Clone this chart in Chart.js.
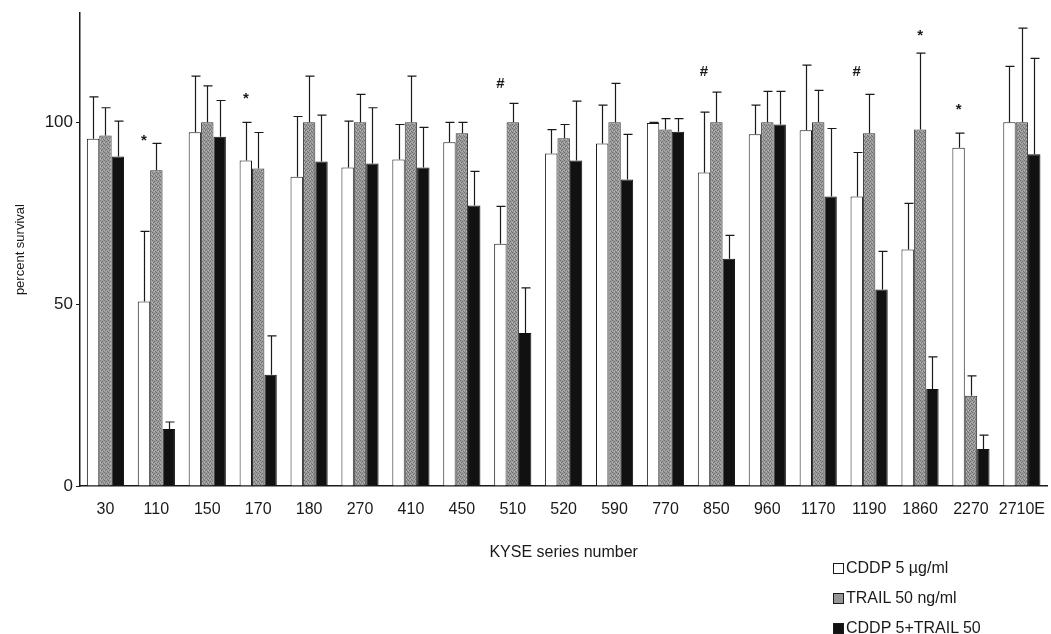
<!DOCTYPE html>
<html>
<head>
<meta charset="utf-8">
<script src="https://cdn.jsdelivr.net/npm/chart.js@4.4.1/dist/chart.umd.min.js"></script>
<style>
  html, body { margin: 0; padding: 0; background: #fff; }
  #wrap { position: relative; width: 1051px; height: 634px; }
  #legend { position: absolute; left: 833px; top: 553px; font-family: "Liberation Sans", Arial, sans-serif; font-size: 16px; color: #1a1a1a; }
  #legend div { height: 30px; line-height: 30px; white-space: nowrap; }
  #legend span.box { display: inline-block; width: 9px; height: 9px; border: 1px solid #1a1a1a; margin-right: 2px; vertical-align: -1px; }
</style>
</head>
<body>
<div id="wrap">
  <canvas id="chart" width="1051" height="634"></canvas>
  <div id="legend"></div>
</div>
<script>
const lines = ["30", "110", "150", "170", "180", "270", "410", "450", "510", "520", "590", "770", "850", "960", "1170", "1190", "1860", "2270", "2710E"];

const cddp = [95.5, 50.7, 97.3, 89.5, 85, 87.6, 89.8, 94.5, 66.6, 91.4, 94.2, 99.8, 86.2, 96.7, 97.8, 79.6, 65, 93, 100];
const trail = [96.4, 86.8, 100, 87.3, 100, 100, 100, 97, 100, 95.6, 100, 98, 100, 100, 100, 97, 98, 24.8, 100];
const combo = [90.6, 15.7, 96, 30.6, 89.2, 88.7, 87.6, 77.1, 42.1, 89.5, 84.3, 97.4, 62.5, 99.4, 79.6, 54, 26.7, 10.2, 91.2];

// top of the error bar for each bar
const cddpErr = [107, 70, 112.7, 100, 101.6, 100.3, 99.4, 100, 76.9, 98, 104.7, 100, 102.8, 104.7, 115.7, 91.7, 77.7, 97, 115.4];
const trailErr = [104, 94.2, 110, 97.2, 112.7, 107.7, 112.7, 100, 105.2, 99.4, 110.7, 101, 108.3, 108.5, 108.8, 107.7, 119, 30.3, 125.9];
const comboErr = [100.3, 17.6, 106, 41.3, 102, 104, 98.6, 86.5, 54.5, 105.8, 96.7, 101, 68.9, 108.5, 98.3, 64.5, 35.5, 14, 117.6];

// significance marks
const markLines = ["110", "170", "510", "850", "1190", "1860", "2270"];
const markSymbols = ["*", "*", "#", "#", "#", "*", "*"];
const markValues = [96, 107.5, 110.5, 113.8, 113.8, 125, 104.4];
const markSeries = [0, 0, 0, 0, 0, 1, 0];

const yTicks = [0, 50, 100];

// stippled grey fill like the printed figure
function stipple() {
  const c = document.createElement("canvas");
  c.width = 4; c.height = 4;
  const g = c.getContext("2d");
  g.fillStyle = "#9a9a9a";
  g.fillRect(0, 0, 4, 4);
  g.fillStyle = "#6f6f6f";
  g.fillRect(0, 0, 1, 1); g.fillRect(2, 1, 1, 1); g.fillRect(1, 2, 1, 1); g.fillRect(3, 3, 1, 1);
  g.fillStyle = "#b8b8b8";
  g.fillRect(2, 3, 1, 1); g.fillRect(0, 2, 1, 1);
  return g.createPattern(c, "repeat");
}

const errorBars = {
  id: "errorBars",
  afterDatasetsDraw(chart) {
    const ctx = chart.ctx;
    const y = chart.scales.y;
    ctx.save();
    ctx.strokeStyle = "#1a1a1a";
    ctx.lineWidth = 1.2;
    chart.data.datasets.forEach((ds, di) => {
      const meta = chart.getDatasetMeta(di);
      meta.data.forEach((bar, i) => {
        const top = y.getPixelForValue(ds.errTop[i]);
        const x = Math.round(bar.x) + 0.5;
        ctx.beginPath();
        ctx.moveTo(x, bar.y);
        ctx.lineTo(x, top);
        ctx.moveTo(x - 4, top);
        ctx.lineTo(x + 5, top);
        ctx.stroke();
      });
    });
    // * and # marks
    ctx.fillStyle = "#1a1a1a";
    ctx.textAlign = "center";
    ctx.textBaseline = "middle";
    ctx.font = "bold 15px 'Liberation Sans', Arial, sans-serif";
    markLines.forEach((l, k) => {
      const i = lines.indexOf(l);
      const bar = chart.getDatasetMeta(markSeries[k]).data[i];
      ctx.fillText(markSymbols[k], bar.x, y.getPixelForValue(markValues[k]) + (markSymbols[k] === "*" ? 4 : 0));
    });
    ctx.restore();
  }
};

const font = { family: "'Liberation Sans', Arial, sans-serif" };

const chart = new Chart(document.getElementById("chart"), {
  type: "bar",
  data: {
    labels: lines,
    datasets: [
      { label: "CDDP 5 µg/ml", data: cddp, errTop: cddpErr, backgroundColor: "#ffffff", borderColor: "#1a1a1a", borderWidth: 1, legendColor: "#fff" },
      { label: "TRAIL 50 ng/ml", data: trail, errTop: trailErr, backgroundColor: stipple(), borderColor: "#333", borderWidth: 1, legendColor: "#959595" },
      { label: "CDDP 5+TRAIL 50", data: combo, errTop: comboErr, backgroundColor: "#111", borderColor: "#111", borderWidth: 1, legendColor: "#111" }
    ]
  },
  options: {
    responsive: false,
    animation: false,
    layout: { padding: { top: 13, right: 0, bottom: 0, left: 0 } },
    datasets: { bar: { categoryPercentage: 0.73, barPercentage: 1.0 } },
    plugins: { legend: { display: false }, tooltip: { enabled: false } },
    scales: {
      x: {
        grid: { display: false },
        border: { color: "#1a1a1a", width: 1.5 },
        ticks: { color: "#1a1a1a", font: { ...font, size: 16 }, padding: 6, maxRotation: 0, autoSkip: false },
        title: { display: true, text: "KYSE series number", color: "#1a1a1a", font: { ...font, size: 16 }, padding: { top: 72, bottom: 72 } },
        afterFit(scale) { scale.height = 148; }
      },
      y: {
        min: 0,
        max: 130,
        grid: { display: true, drawOnChartArea: false, drawTicks: true, tickLength: 4, color: "#1a1a1a" },
        border: { color: "#1a1a1a", width: 1.5 },
        ticks: { color: "#1a1a1a", font: { ...font, size: 17 }, padding: 3 },
        afterBuildTicks(scale) { scale.ticks = yTicks.map(v => ({ value: v })); },
        title: { display: true, text: "percent survival", color: "#1a1a1a", font: { ...font, size: 13 }, padding: { top: 13, bottom: 13 } },
        afterFit(scale) { scale.width = 80; }
      }
    }
  },
  plugins: [errorBars]
});

document.getElementById("legend").innerHTML = chart.data.datasets.map(ds =>
  `<div><span class="box" style="background:${ds.legendColor}"></span>${ds.label}</div>`
).join("");
</script>
</body>
</html>
